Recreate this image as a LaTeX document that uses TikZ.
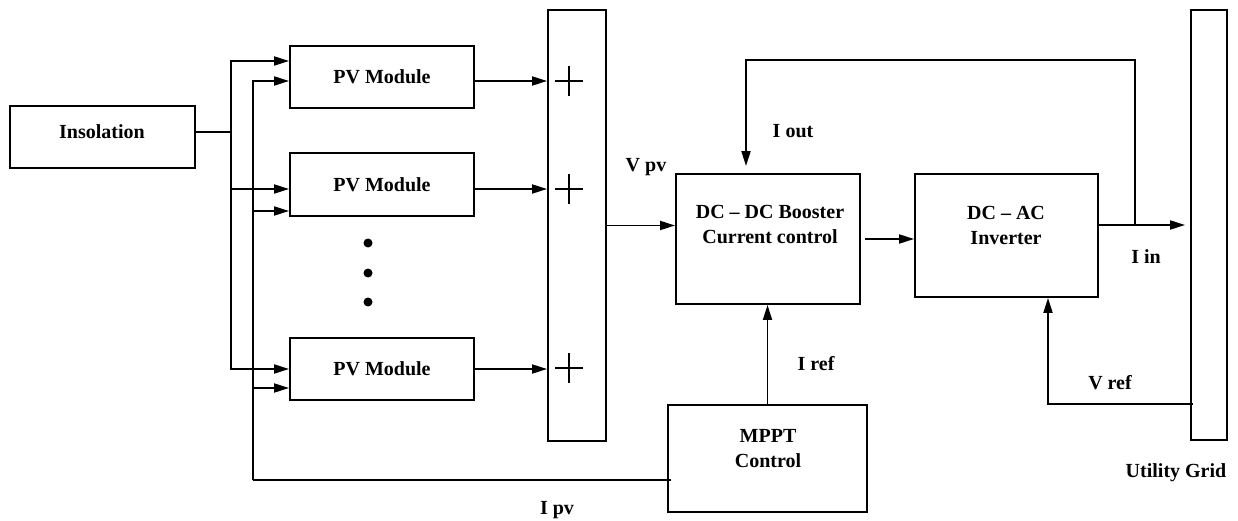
\documentclass[tikz,border=0pt]{standalone}
\usepackage{fontspec}
\setmainfont{Liberation Serif}
\usetikzlibrary{arrows.meta}

\begin{document}
\begin{tikzpicture}[
            x = 1pt, y = -1pt,
            every node/.style = {font = \fontsize{20}{25}\selectfont\bfseries},
            blk/.style = {draw, line width = 1.9pt, rectangle, inner sep = 0mm},
            dot/.style = {circle, fill, inner sep = 0mm, minimum size = 9pt},
            txt/.style = {align = center, inner sep = 0mm},
            arr/.style = {draw, line width = 1.9pt, -{Triangle[length = 15pt, width = 9pt]}},
            wire/.style = {draw, line width = 1.9pt},
            plus/.style = {draw, line width = 1.4pt},
        ]
        \useasboundingbox (0,0) rectangle (1238,521);

        \node (INS) [blk, minimum width = 185pt, minimum height = 62pt] at (102.5,137) {};
        \node (INST) [txt] at (102,132) {Insolation};

        \node (PV1) [blk, minimum width = 184pt, minimum height = 62pt] at (382,77) {PV Module};
        \node (PV2) [blk, minimum width = 184pt, minimum height = 63pt] at (382,184.5) {PV Module};
        \node (PV3) [blk, minimum width = 184pt, minimum height = 62pt] at (382,369) {PV Module};

        \node (D1) [dot] at (368,243) {};
        \node (D2) [dot] at (368,273) {};
        \node (D3) [dot] at (368,302) {};

        \node (SUM) [blk, minimum width = 58pt, minimum height = 431pt] at (577,225.5) {};

        \node (DCDC) [blk, minimum width = 184pt, minimum height = 130pt] at (768,239) {};
        \node (DCDCT) [txt] at (770,225) {DC -- DC Booster\\Current control};
        \node (DCAC) [blk, minimum width = 183pt, minimum height = 123pt] at (1006.5,235.5) {};
        \node (DCACT) [txt] at (1006,225) {DC -- AC\\Inverter};
        \node (MPPT) [blk, minimum width = 199pt, minimum height = 107pt] at (767.5,458.5) {};
        \node (MPPTT) [txt] at (768,449) {MPPT\\Control};
        \node (GRID) [blk, minimum width = 36pt, minimum height = 430pt] at (1209,225) {};

        \node (VPV) at (646,167) {V pv};
        \node (IOUT) at (793,131) {I out};
        \node (IIN) at (1146,257) {I in};
        \node (IREF) at (816,364) {I ref};
        \node (VREF) at (1110,383) {V ref};
        \node (IPV) at (557,510) {I pv};
        \node (UG) at (1176,473) {Utility Grid};

        \coordinate (SPLIT) at (231,132);
        \coordinate (FB) at (253,480);
        \coordinate (TAP) at (1135,225);
        \coordinate (TOP) at (746,60);

        % insolation to the modules
        \path[wire] ([yshift=5pt]INS.east) -- (SPLIT);
        \path[arr] (SPLIT) |- ([yshift=16pt]PV1.west);
        \path[arr] (SPLIT) |- ([yshift=-4.5pt]PV2.west);
        \path[arr] (SPLIT) |- (PV3.west);

        % I pv back from the MPPT
        \path[wire] ([xshift=4pt, yshift=-21.5pt]MPPT.west) -- (FB);
        \path[arr] (FB) |- ([yshift=-4pt]PV1.west);
        \path[arr] (FB) |- ([yshift=-26.5pt]PV2.west);
        \path[arr] (FB) |- ([yshift=-19pt]PV3.west);

        \coordinate (O1) at ([yshift=-4pt]PV1.east);
        \coordinate (O2) at ([yshift=-4.5pt]PV2.east);
        \coordinate (O3) at (PV3.east);
        \path[arr] (O1) -- (O1 -| SUM.west);
        \path[arr] (O2) -- (O2 -| SUM.west);
        \path[arr] (O3) -- (O3 -| SUM.west);

        \foreach \y in {81,189,368}
            \path[plus] (555,\y) -- (583,\y) (569,\y-15) -- (569,\y+15);

        \path[arr] (SUM.east) -- (SUM.east -| DCDC.west);
        \path[arr] ([xshift=4pt]DCDC.east) -- (DCDC.east -| DCAC.west);

        \coordinate (GIN) at (GRID.west |- TAP);
        \path[arr] ([yshift=10.5pt]DCAC.east) -- ([xshift=-5pt]GIN);
        \path[arr] (TAP) |- (TOP) -- ([xshift=-22pt, yshift=7pt]DCDC.north);

        \path[arr] (MPPT.north) -- (MPPT.north |- DCDC.south);

        \coordinate (VR) at ([xshift=3pt]GRID.west |- MPPT.north);
        \path[arr] (VR) -| ([xshift=41.5pt]DCAC.south);
    \end{tikzpicture}
\end{document}
